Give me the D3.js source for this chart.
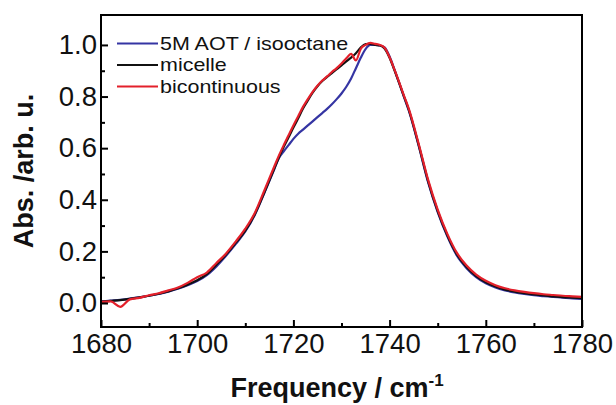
<!DOCTYPE html>
<html><head><meta charset="utf-8">
<script src="https://cdn.jsdelivr.net/npm/d3@7"></script>
<style>body{margin:0;background:#fff}svg{display:block}text{font-family:"Liberation Sans",Arial,sans-serif}</style>
</head><body>
<svg id="c" width="616" height="405"></svg>
<script>
const freq = [1680,1682,1684,1686,1688,1690,1692,1694,1696,1698,1700,1702,1704,1706,1708,1710,1712,1714,1716,
  1717,1718,1719,1720,1721,1722,1723,1724,1725,1726,1727,1728,1729,1730,1731,1732,1733,1734,1735,1736,1737,1738,1739,1740,1741,1742,1743,1744,
  1746,1748,1750,1752,1754,1756,1758,1760,1762,1764,1766,1768,1770,1772,1774,1776,1778,1780];
const aot = [0.006,0.009,0.012,0.017,0.022,0.028,0.035,0.044,0.055,0.069,0.085,0.108,0.142,0.183,0.228,0.277,0.342,0.428,0.517,
  0.562,0.588,0.612,0.636,0.656,0.672,0.688,0.704,0.72,0.736,0.752,0.77,0.79,0.812,0.838,0.87,0.91,0.95,0.984,1.0,1.0,0.998,0.99,0.955,0.905,0.852,0.798,0.745,
  0.612,0.468,0.352,0.258,0.183,0.135,0.1,0.076,0.06,0.049,0.041,0.035,0.03,0.027,0.024,0.021,0.018,0.016];
const micelle = [0.005,0.008,0.011,0.016,0.022,0.028,0.036,0.045,0.057,0.071,0.088,0.112,0.148,0.188,0.233,0.28,0.345,0.43,0.52,
  0.565,0.605,0.642,0.68,0.716,0.754,0.785,0.815,0.84,0.86,0.876,0.891,0.906,0.921,0.936,0.951,0.968,0.99,1.003,1.004,1.0,0.998,0.985,0.95,0.902,0.852,0.8,0.748,
  0.615,0.472,0.356,0.262,0.188,0.139,0.104,0.08,0.064,0.052,0.044,0.038,0.033,0.029,0.026,0.023,0.021,0.019];
const bicont = [0.004,0.006,-0.015,0.014,0.02,0.03,0.038,0.049,0.06,0.078,0.1,0.118,0.155,0.192,0.238,0.288,0.35,0.438,0.528,
  0.572,0.612,0.65,0.688,0.724,0.76,0.79,0.818,0.842,0.862,0.878,0.895,0.91,0.928,0.948,0.965,0.94,0.985,1.0,1.008,1.004,1.0,0.988,0.952,0.905,0.855,0.803,0.752,
  0.62,0.478,0.362,0.268,0.194,0.145,0.11,0.086,0.069,0.057,0.049,0.043,0.038,0.034,0.031,0.028,0.026,0.024];
const xTicks = [1680,1700,1720,1740,1760,1780];
const yTicks = [0.0,0.2,0.4,0.6,0.8,1.0];
const seriesNames = ["5M AOT / isooctane","micelle","bicontinuous"];
const seriesColors = ["#3535a3","#111111","#e3202b"];

const svg = d3.select("#c");
const L=101,R=582,T=15,B=327;
const x = d3.scaleLinear().domain([1680,1780]).range([L,R]);
const y = d3.scaleLinear().domain([-0.093,1.116]).range([B,T]);

const series = [aot, micelle, bicont];
const line = d3.line().x((d,i)=>x(freq[i])).y(d=>y(d)).curve(d3.curveMonotoneX);
svg.append("g").selectAll("path").data(series).join("path")
  .attr("d", d=>line(d)).attr("fill","none")
  .attr("stroke",(d,i)=>seriesColors[i]).attr("stroke-width",2.2).attr("stroke-linejoin","round");

// frame
svg.append("rect").attr("x",L).attr("y",T).attr("width",R-L).attr("height",B-T)
  .attr("fill","none").attr("stroke","#000").attr("stroke-width",2);

// x axis
const xa = svg.append("g").attr("transform",`translate(0,${B})`);
xa.call(d3.axisBottom(x).tickValues(d3.range(1690,1780,20)).tickSize(-4).tickFormat(""));
xa.call(g=>g.select(".domain").remove());
const xb = svg.append("g").attr("transform",`translate(0,${B})`);
xb.call(d3.axisBottom(x).tickValues(xTicks).tickSize(-7).tickPadding(6).tickFormat(d3.format("d")));
xb.select(".domain").remove();
xb.selectAll("line").attr("stroke-width",2);
xa.selectAll("line").attr("stroke-width",2);
xb.selectAll("text").attr("font-size",27.5).attr("font-family","Liberation Sans, Arial, sans-serif").attr("fill","#111");

// y axis
const ya = svg.append("g").attr("transform",`translate(${L},0)`);
ya.call(d3.axisLeft(y).tickValues([0.1,0.3,0.5,0.7,0.9]).tickSize(-4).tickFormat(""));
ya.select(".domain").remove();
ya.selectAll("line").attr("stroke-width",2);
const yb = svg.append("g").attr("transform",`translate(${L},0)`);
yb.call(d3.axisLeft(y).tickValues(yTicks).tickSize(-7).tickPadding(4).tickFormat(d3.format(".1f")));
yb.select(".domain").remove();
yb.selectAll("line").attr("stroke-width",2);
yb.selectAll("text").attr("font-size",27.5).attr("font-family","Liberation Sans, Arial, sans-serif").attr("fill","#111");

// titles
const xt = svg.append("text").attr("x",337).attr("y",397).attr("text-anchor","middle")
  .attr("font-size",27).attr("font-weight","bold").attr("fill","#111");
xt.append("tspan").text("Frequency / cm");
xt.append("tspan").text("-1").attr("font-size",17).attr("dy",-11);
svg.append("text").attr("transform","translate(33,171) rotate(-90)").attr("text-anchor","middle")
  .attr("font-size",27).attr("font-weight","bold").attr("fill","#111").text("Abs. /arb. u.");

// legend
const lg = svg.append("g");
seriesNames.forEach((n,i)=>{
  const by = 49.5 + i*21.5;
  lg.append("line").attr("x1",117).attr("x2",158).attr("y1",by-6).attr("y2",by-6)
    .attr("stroke",seriesColors[i]).attr("stroke-width",2);
  const t = lg.append("text").attr("x",160).attr("y",by).attr("font-size",19).attr("fill","#111").text(n);
  const w = t.node().getComputedTextLength();
  t.attr("textLength", w*1.13).attr("lengthAdjust","spacingAndGlyphs");
});
</script>
</body></html>
